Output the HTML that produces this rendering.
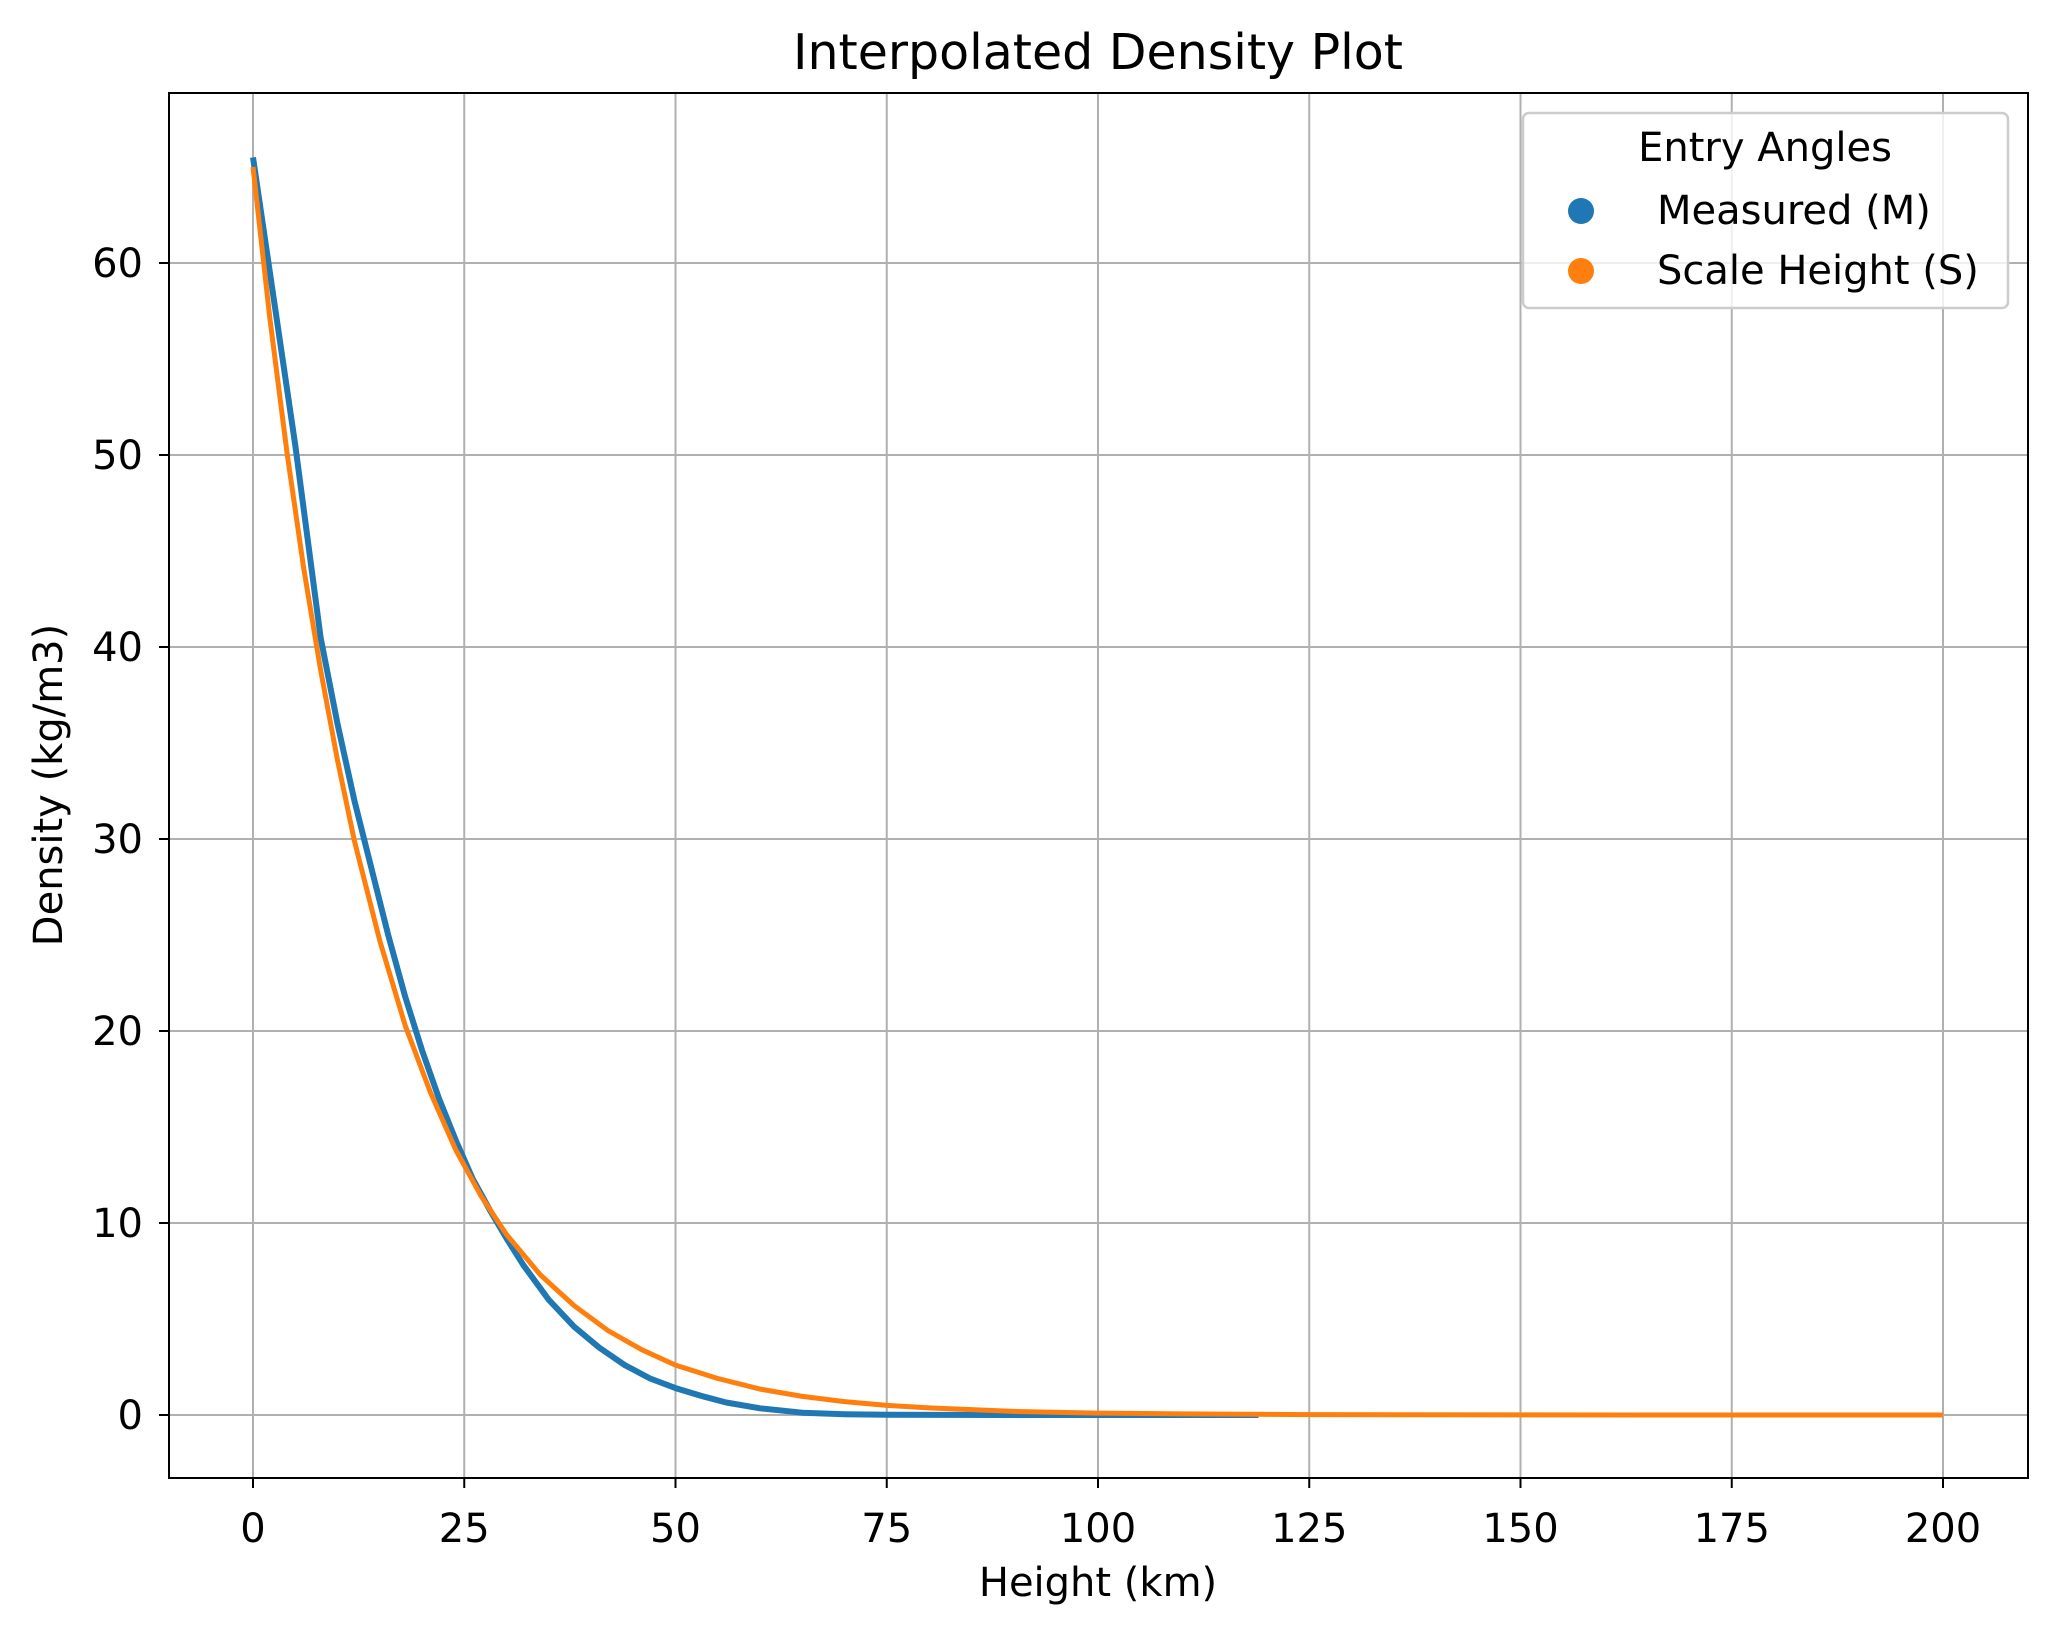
<!DOCTYPE html>
<html><head><meta charset="utf-8"><style>
body{margin:0;background:#fff}
svg text{font-family:"DejaVu Sans","Liberation Sans",sans-serif;fill:#000}
</style></head><body>
<svg id="chart" width="2058" height="1634" viewBox="0 0 2058 1634" xmlns="http://www.w3.org/2000/svg">
<rect width="2058" height="1634" fill="#fff"/>
<g id="grid"></g>
<g id="series"></g>
<rect x="169" y="93" width="1859" height="1385" fill="none" stroke="#000" stroke-width="2"/>
<g id="ticks"></g>
<text x="1098" y="69" font-size="49" text-anchor="middle">Interpolated Density Plot</text>
<text x="1098" y="1596" font-size="40" text-anchor="middle">Height (km)</text>
<text transform="translate(62,785) rotate(-90)" font-size="40" text-anchor="middle">Density (kg/m3)</text>
<g>
<rect x="1523" y="113" width="485" height="195" rx="6" fill="#fff" fill-opacity="0.8" stroke="#ccc" stroke-width="2.5"/>
<text x="1765" y="161" font-size="40" text-anchor="middle">Entry Angles</text>
<circle cx="1581" cy="211" r="13" fill="#1f77b4"/>
<text x="1657" y="224" font-size="40">Measured (M)</text>
<circle cx="1581" cy="271" r="13" fill="#ff7f0e"/>
<text x="1657" y="284" font-size="40">Scale Height (S)</text>
</g>
</svg>
<script>
const xTicks=[0,25,50,75,100,125,150,175,200];
const yTicks=[0,10,20,30,40,50,60];
const measuredHeights=[0,2,5,8,10,12,14,16,18,20,22,24,26,28,30,32,35,38,41,44,47,50,53,56,60,65,70,75,90,119];
const measuredDensity=[65.5,59.5,50.5,40.5,36,32,28.5,25,21.8,19,16.5,14.3,12.3,10.7,9.2,7.8,6.0,4.6,3.5,2.6,1.9,1.4,1.0,0.65,0.35,0.12,0.04,0.01,0,0];
const scaleHeights=[0,2,4,6,8,10,12,15,18,21,24,27,30,34,38,42,46,50,55,60,65,70,75,80,90,100,110,125,150,175,200];
const scaleDensity=[65,57.1,50.2,44.1,38.8,34.1,29.9,24.7,20.3,16.8,13.8,11.4,9.4,7.3,5.7,4.4,3.4,2.6,1.9,1.35,0.97,0.70,0.50,0.37,0.19,0.10,0.055,0.02,0.004,0.001,0];
const NS='http://www.w3.org/2000/svg';
const X=v=>253+(v/200)*(1943-253);
const Y=v=>1415-(v/60)*(1415-263);
function mk(tag,attrs,parent){const e=document.createElementNS(NS,tag);for(const k in attrs)e.setAttribute(k,attrs[k]);parent.appendChild(e);return e;}
const grid=document.getElementById('grid'),ticks=document.getElementById('ticks'),series=document.getElementById('series');
xTicks.forEach(t=>{
 const g=mk('line',{x1:X(t),x2:X(t),y1:93,y2:1478,stroke:'#b0b0b0','stroke-width':2},grid);
 
 
 const m=mk('line',{x1:X(t),x2:X(t),y1:1478,y2:1488,stroke:'#000','stroke-width':2},ticks);
 
 
 const l=mk('text',{x:X(t),y:1542,'font-size':40,'text-anchor':'middle'},ticks);l.textContent=t;
 
 
});
yTicks.forEach(t=>{
 const g=mk('line',{x1:169,x2:2028,y1:Y(t),y2:Y(t),stroke:'#b0b0b0','stroke-width':2},grid);
 
 
 const m=mk('line',{x1:159,x2:169,y1:Y(t),y2:Y(t),stroke:'#000','stroke-width':2},ticks);
 
 
 const l=mk('text',{x:143,y:Y(t)+14,'font-size':40,'text-anchor':'end'},ticks);l.textContent=t;
 
 
});
function line(xs,ys,color,w,name){
 const d=xs.map((x,i)=>(i?'L':'M')+X(x).toFixed(1)+' '+Y(ys[i]).toFixed(1)).join(' ');
 const p=mk('path',{d:d,fill:'none',stroke:color,'stroke-width':w,'stroke-linejoin':'round'},series);
 
 
}
line(measuredHeights,measuredDensity,'#1f77b4',6,'measured-line');
line(scaleHeights,scaleDensity,'#ff7f0e',5,'scale-height-line');
</script>
</body></html>
